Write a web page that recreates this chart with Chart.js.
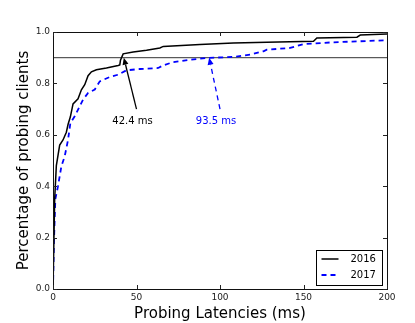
<!DOCTYPE html>
<html><head><meta charset="utf-8">
<script src="https://cdn.jsdelivr.net/npm/chart.js@4/dist/chart.umd.min.js"></script>
<style>html,body{margin:0;padding:0;background:#fff}#c{display:block}</style>
</head><body>
<canvas id="c" width="415" height="323"></canvas>
<script>
const x2016 = [0,1,2,4,6,8,9,10.4,12,15,17,19,21,23,26,32,39,40,40.4,42,48,56,64,66,88,108,128,156,158,182,184,200];
const y2016 = [0,0.35,0.48,0.56,0.58,0.61,0.64,0.67,0.72,0.74,0.775,0.795,0.83,0.845,0.853,0.86,0.87,0.872,0.89,0.915,0.922,0.929,0.938,0.944,0.951,0.957,0.96,0.964,0.977,0.98,0.988,0.992];
const x2017 = [0,0.6,1.4,3,5,7,9,10.4,13,15,18,21,25,28,34,39,44,52,63,66,72,82,92,108,118,126,128,142,150,168,200];
const y2017 = [0,0.19,0.35,0.40,0.477,0.516,0.58,0.646,0.672,0.698,0.737,0.763,0.776,0.808,0.825,0.834,0.851,0.856,0.86,0.87,0.883,0.892,0.899,0.903,0.912,0.925,0.931,0.938,0.953,0.96,0.968];
const refX = [0,200];
const refY = [0.9,0.9];
const xTicks = [0,50,100,150,200];
const yTicks = [0,0.2,0.4,0.6,0.8,1.0];
const annLabels = ['42.4 ms','93.5 ms'];
const annTipX = [42.4, 93.5];
const annTipY = [0.9, 0.9];
const annTailX = [50, 100];
const annTailY = [0.70, 0.70];
const annColors = ['#000000','#0000ff'];
const seriesNames = ['2016','2017'];

const toPts = (xs, ys) => xs.map((x,i)=>({x:x,y:ys[i]}));

const framePlugin = {
  id:'frame',
  afterDatasetsDraw(chart){
    const ctx = chart.ctx, a = chart.chartArea, xs = chart.scales.x, ys = chart.scales.y;
    ctx.save();
    ctx.strokeStyle='#111'; ctx.lineWidth=1;
    ctx.strokeRect(Math.round(a.left)+0.5, Math.round(a.top)+0.5, Math.round(a.right-a.left), Math.round(a.bottom-a.top));
    ctx.strokeStyle='#222';
    const L=4;
    xTicks.forEach(v=>{
      const px=Math.round(xs.getPixelForValue(v))+0.5;
      ctx.beginPath(); ctx.moveTo(px,a.bottom); ctx.lineTo(px,a.bottom-L);
      ctx.moveTo(px,a.top); ctx.lineTo(px,a.top+L); ctx.stroke();
    });
    yTicks.forEach(v=>{
      const py=Math.round(ys.getPixelForValue(v))+0.5;
      ctx.beginPath(); ctx.moveTo(a.left,py); ctx.lineTo(a.left+L,py);
      ctx.moveTo(a.right,py); ctx.lineTo(a.right-L,py); ctx.stroke();
    });
    for(let i=0;i<annLabels.length;i++){
      const tx=xs.getPixelForValue(annTailX[i]), ty=ys.getPixelForValue(annTailY[i]);
      const hx=xs.getPixelForValue(annTipX[i]), hy=ys.getPixelForValue(annTipY[i]);
      ctx.strokeStyle=annColors[i]; ctx.fillStyle=annColors[i];
      ctx.lineWidth=1.3;
      ctx.setLineDash(i===1?[5,4]:[]);
      const ang=Math.atan2(hy-ty,hx-tx);
      const hl=7, hw=3;
      const bx=hx-hl*Math.cos(ang), by=hy-hl*Math.sin(ang);
      ctx.beginPath(); ctx.moveTo(tx,ty); ctx.lineTo(bx,by); ctx.stroke();
      ctx.setLineDash([]);
      ctx.beginPath(); ctx.moveTo(hx,hy);
      ctx.lineTo(bx+hw*Math.sin(ang), by-hw*Math.cos(ang));
      ctx.lineTo(bx-hw*Math.sin(ang), by+hw*Math.cos(ang));
      ctx.closePath(); ctx.fill();
      ctx.font='10px "DejaVu Sans"'; ctx.textAlign='center'; ctx.textBaseline='middle';
      ctx.fillText(annLabels[i], tx-4, ty+12.5);
    }
    const lw=66, lh=35;
    const lx=a.right-lw-5.5, ly=a.bottom-lh-4.5;
    ctx.fillStyle='#fff'; ctx.fillRect(lx,ly,lw,lh);
    ctx.strokeStyle='#000'; ctx.lineWidth=1; ctx.strokeRect(Math.round(lx)+0.5,Math.round(ly)+0.5,lw,lh);
    const ds=chart.data.datasets;
    for(let i=0;i<2;i++){
      const yy=ly+9.5+i*16;
      ctx.strokeStyle=ds[i].borderColor; ctx.lineWidth=ds[i].borderWidth;
      ctx.setLineDash(ds[i].borderDash||[]);
      ctx.beginPath(); ctx.moveTo(lx+6,yy); ctx.lineTo(lx+23,yy); ctx.stroke();
      ctx.setLineDash([]);
      ctx.fillStyle='#000'; ctx.font='10px "DejaVu Sans"'; ctx.textAlign='left'; ctx.textBaseline='middle';
      ctx.fillText(seriesNames[i], lx+35, yy);
    }
    ctx.restore();
  }
};

new Chart(document.getElementById('c'), {
  type:'scatter',
  data:{datasets:[
    {label:seriesNames[0], data:toPts(x2016,y2016), showLine:true, borderColor:'#000', borderWidth:1.5, pointRadius:0, tension:0},
    {label:seriesNames[1], data:toPts(x2017,y2017), showLine:true, borderColor:'#0000ff', borderWidth:1.8, borderDash:[5,4], pointRadius:0, tension:0},
    {label:'ref', data:toPts(refX,refY), showLine:true, borderColor:'#333', borderWidth:1, pointRadius:0}
  ]},
  options:{
    responsive:false, animation:false,
    layout:{padding:{left:0,right:28,top:32,bottom:0}},
    plugins:{legend:{display:false}, tooltip:{enabled:false}},
    scales:{
      x:{type:'linear', min:0, max:200,
        afterBuildTicks(s){ s.ticks = xTicks.map(v=>({value:v})); },
        afterFit(s){ s.height=34; },
        grid:{display:false, drawTicks:false}, border:{display:false},
        ticks:{color:'#222', font:{family:'DejaVu Sans', size:9}, padding:3, maxRotation:0, callback:v=>String(v)},
        title:{display:true, text:'Probing Latencies (ms)', color:'#000', font:{family:'DejaVu Sans', size:15}, padding:{top:0,bottom:0}}
      },
      y:{type:'linear', min:0, max:1,
        afterBuildTicks(s){ s.ticks = yTicks.map(v=>({value:v})); },
        afterFit(s){ s.width=53; },
        grid:{display:false, drawTicks:false}, border:{display:false},
        ticks:{color:'#222', font:{family:'DejaVu Sans', size:9}, padding:3, callback:v=>Number(v).toFixed(1)},
        title:{display:true, text:'Percentage of probing clients', color:'#000', font:{family:'DejaVu Sans', size:15}, padding:{top:15,bottom:0}}
      }
    }
  },
  plugins:[framePlugin]
});
</script>
</body></html>
